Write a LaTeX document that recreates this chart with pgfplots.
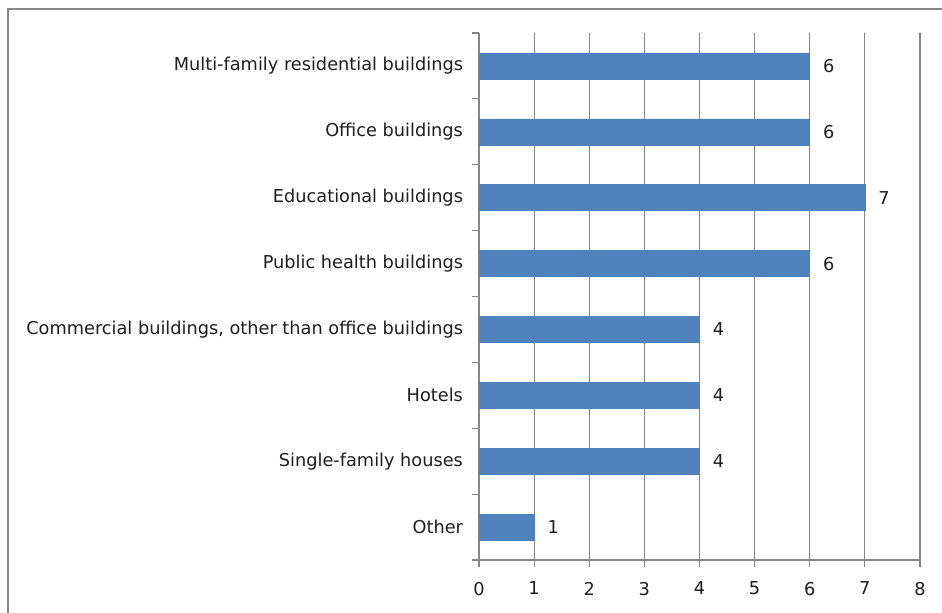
\documentclass[border=0pt]{standalone}
\usepackage{fontspec}
\setmainfont{DejaVu Sans}
\usepackage{pgfplots}
\pgfplotsset{compat=1.18}
\definecolor{barblue}{RGB}{79,129,189}
\definecolor{gridgray}{RGB}{134,134,134}
\definecolor{txt}{RGB}{30,30,30}
\begin{document}
\begin{tikzpicture}
\useasboundingbox (0,0) rectangle (706.5pt,459pt);
\draw[gridgray, line width=0.9pt] (6pt,-20pt) -- (6pt,452.25pt) -- (730pt,452.25pt);
\begin{axis}[
  at={(359.25pt,39pt)}, anchor=south west,
  scale only axis, width=330.75pt, height=395.25pt,
  xbar, bar width=19.5pt,
  xmin=0, xmax=8, ymin=-0.5, ymax=7.5,
  axis lines*=left,
  axis line style={gridgray, line width=0.8pt},
  xtick={0,...,8},
  xmajorgrids, major grid style={gridgray, line width=0.8pt},
  tick align=outside, major tick length=5pt,
  tick style={gridgray, line width=0.8pt},
  ytick={-0.5,0.5,...,7.5}, yticklabels={},
  extra y ticks={0,1,2,3,4,5,6,7},
  extra y tick labels={Other, Single-family houses, Hotels, {Commercial buildings, other than office buildings}, Public health buildings, Educational buildings, Office buildings, Multi-family residential buildings},
  extra y tick style={major tick length=0pt, grid=none},
  ticklabel style={font=\fontsize{13.3}{15}\selectfont, text=txt},
  yticklabel style={xshift=-8.5pt},
  xticklabel style={yshift=-8pt},
  /pgf/number format/assume math mode=true,
  nodes near coords,
  nodes near coords align=horizontal,
  every node near coord/.append style={anchor=west, xshift=6.5pt, font=\fontsize{13.3}{15}\selectfont, text=txt},
  clip=false,
]
\addplot[fill=barblue, draw=barblue] coordinates {
(1,0) (4,1) (4,2) (4,3) (6,4) (7,5) (6,6) (6,7)
};
\end{axis}
\end{tikzpicture}
\end{document}
